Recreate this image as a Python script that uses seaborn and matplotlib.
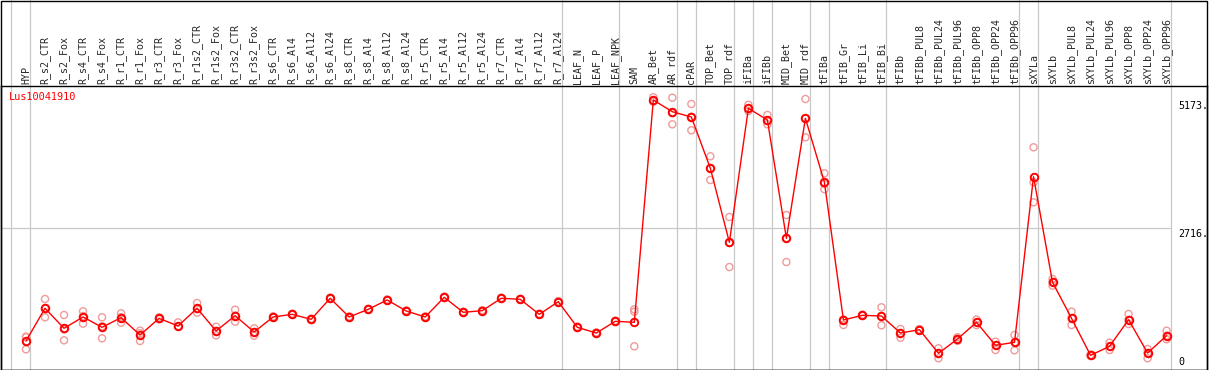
import numpy as np
import pandas as pd
import matplotlib
matplotlib.use("Agg")
import matplotlib.pyplot as plt
import matplotlib.transforms as mtransforms
from matplotlib.patches import Rectangle
import seaborn as sns

categories = ["HYP", "R_s2_CTR", "R_s2_Fox", "R_s4_CTR", "R_s4_Fox", "R_r1_CTR", "R_r1_Fox",
              "R_r3_CTR", "R_r3_Fox", "R_r1s2_CTR", "R_r1s2_Fox", "R_r3s2_CTR", "R_r3s2_Fox",
              "R_s6_CTR", "R_s6_Al4", "R_s6_Al12", "R_s6_Al24", "R_s8_CTR", "R_s8_Al4", "R_s8_Al12",
              "R_s8_Al24", "R_r5_CTR", "R_r5_Al4", "R_r5_Al12", "R_r5_Al24", "R_r7_CTR", "R_r7_Al4",
              "R_r7_Al12", "R_r7_Al24", "LEAF_N", "LEAF_P", "LEAF_NPK", "SAM", "AR_Bet", "AR_rdf",
              "cPAR", "TOP_Bet", "TOP_rdf", "iFIBa", "iFIBb", "MID_Bet", "MID_rdf", "tFIBa",
              "tFIB_Gr", "tFIB_Li", "tFIB_Bi", "tFIBb", "tFIBb_PUL8", "tFIBb_PUL24", "tFIBb_PUL96",
              "tFIBb_OPP8", "tFIBb_OPP24", "tFIBb_OPP96", "sXYLa", "sXYLb", "sXYLb_PUL8",
              "sXYLb_PUL24", "sXYLb_PUL96", "sXYLb_OPP8", "sXYLb_OPP24", "sXYLb_OPP96"]

means = [547, 1175, 791, 1008, 810, 995, 662, 982, 835, 1175, 739, 1033, 720,
         1008, 1059, 963, 1367, 1008, 1155, 1334, 1123, 1008, 1386, 1098, 1129,
         1367, 1347, 1059, 1302, 810, 700, 925, 906, 5173, 4948, 4846, 3862, 2441,
         5013, 4789, 2518, 4821, 3593, 950, 1040, 1027, 700, 764, 311, 585, 906,
         464, 522, 3701, 1674, 982, 272, 445, 956, 317, 649]

rep_a = [630, 1353, 1046, 1117, 1002, 1078, 745, 1000, 905, 1276, 822, 1148, 791,
         1020, 1070, 975, 1380, 1020, 1165, 1345, 1135, 1020, 1398, 1110, 1140,
         1378, 1358, 1070, 1314, 822, 712, 937, 1155, 5225, 5217, 5096, 4092, 2927,
         5080, 4885, 2965, 5192, 3766, 962, 1052, 1194, 777, 776, 407, 620, 960,
         534, 662, 4265, 1738, 1110, 284, 515, 1065, 393, 745]

rep_b = [388, 1002, 560, 880, 599, 899, 547, 965, 822, 1090, 656, 918, 649,
         996, 1048, 951, 1355, 996, 1145, 1323, 1111, 996, 1374, 1086, 1117,
         1356, 1336, 1048, 1290, 798, 688, 913, 445, 5140, 4706, 4591, 3637, 1967,
         4960, 4706, 2063, 4457, 3459, 854, 1028, 848, 610, 752, 215, 550, 852,
         374, 368, 3209, 1610, 854, 260, 374, 873, 215, 580]

rep_c = [620, 1170, 770, 1025, 830, 1005, 695, 982, 830, 1160, 740, 1035, 720,
         1008, 1059, 963, 1367, 1008, 1155, 1334, 1123, 1008, 1386, 1098, 1129,
         1367, 1347, 1059, 1302, 810, 700, 925, 1110, 5155, 4920, 4850, 3860, 2430,
         5000, 4775, 2525, 4815, 3560, 950, 1040, 1027, 700, 764, 311, 585, 906,
         464, 522, 3593, 1674, 982, 272, 445, 956, 317, 649]

group_ends = [-1, 0, 28, 31, 34, 35, 37, 38, 39, 41, 42, 45, 52, 53, 60]
ytick_values = [0, 2716, 5173]
ytick_labels = ["0", "2716.", "5173."]
gene_name = "Lus10041910"

W, H = 1209, 370
fig = plt.figure(figsize=(W / 100, H / 100), dpi=100)
sns.set_theme(style="white")
plt.rcParams["font.family"] = ["DejaVu Sans Mono", "DejaVu Sans"]

left_px, right_px, top_px, bot_px = 1, 1207, 85.7, 369.5
ax = fig.add_axes([left_px / W, (H - bot_px) / H, (right_px - left_px) / W, (bot_px - top_px) / H])

xpos = np.arange(len(categories))
df_mean = pd.DataFrame({"x": xpos, "value": means})
df_rep = pd.DataFrame({
    "x": np.concatenate([xpos, xpos, xpos]),
    "value": np.concatenate([rep_a, rep_b, rep_c]),
})

sns.scatterplot(data=df_rep, x="x", y="value", ax=ax, marker="o", s=26,
                facecolors="none", edgecolors="#f09a9a", linewidths=1.0, zorder=3, legend=False)
ax.collections[-1].set_facecolor("none")
ax.collections[-1].set_edgecolor("#f09a9a")

sns.lineplot(data=df_mean, x="x", y="value", ax=ax, color="red", sort=False,
             linewidth=1.0, marker="o", markersize=5.4, markerfacecolor="none",
             markeredgecolor="red", markeredgewidth=1.4, zorder=4)

sp = 19.01
x0 = -(26 - left_px) / sp
x1 = x0 + (right_px - left_px) / sp
ax.set_xlim(x0, x1)
ax.set_ylim(0, (bot_px - top_px) / 0.0521)

# separators
ext = 1 + top_px / (bot_px - top_px)
for g in group_ends:
    ax.axvline(g + 0.22, ymin=0, ymax=ext, color="#c8c8c8", lw=0.9, clip_on=False, zorder=1)
ax.axhline(ytick_values[1], xmin=0, xmax=(60.22 - x0) / (x1 - x0), color="#c8c8c8", lw=0.9, zorder=1)

ax.xaxis.tick_top()
ax.set_xticks(xpos)
ax.set_xticklabels(categories, rotation=90, fontsize=7.2, va="bottom", ha="center")
ax.tick_params(axis="x", length=0, pad=1.5)
ax.set_yticks([])
ax.set_xlabel("")
ax.set_ylabel("")

trans = mtransforms.blended_transform_factory(ax.transAxes, ax.transData)
xlab = (1178.5 - left_px) / (right_px - left_px)
for v, lab in zip(ytick_values, ytick_labels):
    if v == 0:
        ax.annotate(lab, xy=(xlab, v), xycoords=trans, xytext=(0, 2), textcoords="offset points",
                    ha="left", va="bottom", fontsize=7.2, color="black")
    else:
        ax.annotate(lab, xy=(xlab, v), xycoords=trans, xytext=(0, -0.5), textcoords="offset points",
                    ha="left", va="top", fontsize=7.2, color="black")

ax.text(0.0069, 0.96, gene_name, transform=ax.transAxes, color="red", fontsize=7.4,
        ha="left", va="center")

for s in ax.spines.values():
    s.set_color("black")
    s.set_linewidth(1.0)

fig.patches.append(Rectangle((left_px / W, (H - bot_px) / H), (right_px - left_px) / W,
                             (bot_px - 0.5) / H, transform=fig.transFigure, fill=False,
                             ec="black", lw=1.0, zorder=10))

fig.savefig("out.png", dpi=100)
